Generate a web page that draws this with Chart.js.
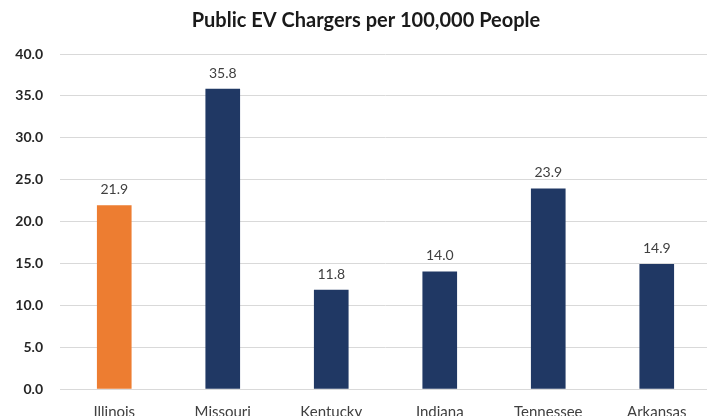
<!DOCTYPE html>
<html>
<head>
<meta charset="utf-8">
<script src="https://cdn.jsdelivr.net/npm/chart.js@4/dist/chart.umd.min.js"></script>
<style>
  html, body { margin: 0; padding: 0; background: #fff; overflow: hidden; }
  #wrap { width: 712px; height: 440px; }
</style>
</head>
<body>
<div id="wrap"><canvas id="Chart"></canvas></div>
<script>
// chargers per 100k people, by state
var states = ['Illinois', 'Missouri', 'Kentucky', 'Indiana', 'Tennessee', 'Arkansas'];
var chargers = [21.9, 35.8, 11.8, 14.0, 23.9, 14.9];
var barColors = ['#ED7D31', '#203864', '#203864', '#203864', '#203864', '#203864'];
var yTicks = [0, 5, 10, 15, 20, 25, 30, 35, 40];

var chartTitle = 'Public EV Chargers per 100,000 People';

// title and value labels drawn by hand
var labelsPlugin = {
	id: 'labels',
	afterDatasetsDraw: function(chart) {
		var ctx = chart.ctx;
		ctx.save();
		ctx.fillStyle = '#404040';
		ctx.font = '14px Lato';
		ctx.textAlign = 'center';
		ctx.textBaseline = 'middle';
		chart.getDatasetMeta(0).data.forEach(function(bar, i) {
			ctx.fillText(chargers[i].toFixed(1), bar.x, bar.y - 16);
		});

		ctx.fillStyle = '#1a1a1a';
		ctx.font = 'bold 20px Lato';
		ctx.fillText(chartTitle, 366, 21);
		ctx.restore();
	}
};

var ctx = document.getElementById('Chart').getContext('2d');
var chart = new Chart(ctx, {
	type: 'bar',
	data: {
		labels: states,
		datasets: [{
			data: chargers,
			backgroundColor: barColors,
			barThickness: 34
		}]
	},
	options: {
		responsive: true,
		maintainAspectRatio: false,
		animation: false,
		layout: { padding: { top: 54, right: 1, left: 0, bottom: 0 } },
		plugins: {
			legend: { display: false },
			tooltip: { enabled: false }
		},
		scales: {
			x: {
				grid: { display: false },
				border: { display: true, color: '#d9d9d9', width: 1 },
				ticks: {
					color: '#404040',
					font: { family: 'Lato', size: 15 },
					padding: 6,
					maxRotation: 0
				},
				afterFit: function(s) { s.height = 51; }
			},
			y: {
				min: 0,
				max: 40,
				afterBuildTicks: function(s) {
					s.ticks = yTicks.map(function(v) { return { value: v }; });
				},
				grid: { color: '#d9d9d9', lineWidth: 1, drawTicks: false },
				border: { display: false },
				ticks: {
					color: '#262626',
					font: { family: 'Lato', size: 14, weight: 'bold' },
					padding: 17,
					callback: function(v) { return v.toFixed(1); }
				},
				afterFit: function(s) { s.width = 60; }
			}
		}
	},
	plugins: [labelsPlugin]
});
</script>
</body>
</html>
